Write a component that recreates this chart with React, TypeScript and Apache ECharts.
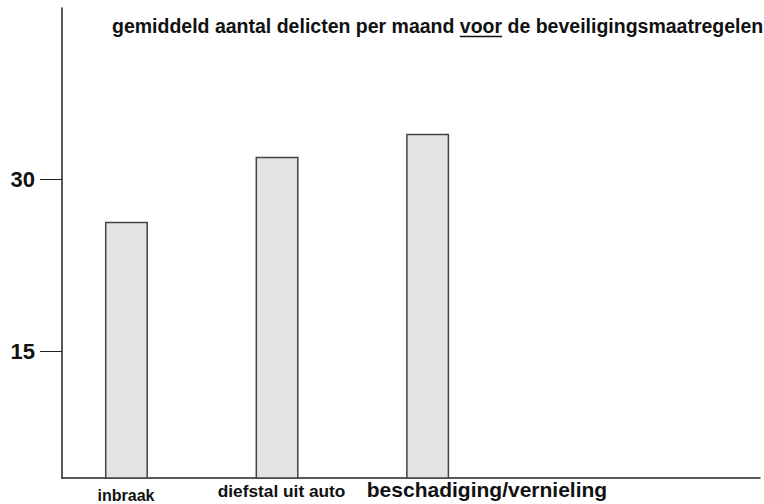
import React, { useEffect, useRef } from "react";
import * as echarts from "echarts";

const categories = ["inbraak", "diefstal uit auto", "beschadiging/vernieling"];
const values = [26.3, 32.0, 34.0];
const yTicks = [15, 30];
const titleBefore = "gemiddeld aantal delicten per maand ";
const titleUnderlined = "voor";
const titleAfter = " de beveiligingsmaatregelen";

const FONT = "'Liberation Sans', Arial, Helvetica, sans-serif";

export default function App() {
  const ref = useRef<HTMLDivElement>(null);
  useEffect(() => {
    if (!ref.current) return;
    const chart = echarts.init(ref.current, undefined, { renderer: "svg" });
    const titleSize = 19.5;
    const ctx = document.createElement("canvas").getContext("2d")!;
    ctx.font = `bold ${titleSize}px ${FONT}`;
    const titleX = 112;
    const titleY = 16;
    const preW = ctx.measureText(titleBefore).width;
    const uW = ctx.measureText(titleUnderlined).width;

    const xMin = 0.572;
    const xMax = 5.207;
    const labelCenters = [0.997, 2.03, 3.394];
    const labelKeys = ["a", "b", "c"];

    chart.setOption({
      animation: false,
      grid: { left: 62, right: 4, top: 8, bottom: 26, containLabel: false },
      xAxis: {
        type: "value",
        min: xMin,
        max: xMax,
        splitLine: { show: false },
        axisLine: { show: true, onZero: false, lineStyle: { color: "#222", width: 1.5 } },
        axisTick: { show: false },
        axisLabel: {
          show: true,
          customValues: labelCenters,
          margin: 1,
          verticalAlign: "top",
          fontFamily: FONT,
          fontWeight: "bold",
          color: "#111",
          formatter: (v: number) => {
            const i = labelCenters.findIndex((c) => Math.abs(c - v) < 1e-6);
            return i >= 0 ? `{${labelKeys[i]}|${categories[i]}}` : "";
          },
          rich: {
            a: { fontFamily: FONT, fontWeight: "bold", fontSize: 16, color: "#111", padding: [8, 0, 0, 0] },
            b: { fontFamily: FONT, fontWeight: "bold", fontSize: 17.3, color: "#111", padding: [3, 0, 0, 0] },
            c: { fontFamily: FONT, fontWeight: "bold", fontSize: 21, color: "#111", padding: [0, 0, 0, 0] },
          },
        },
      },
      yAxis: {
        type: "value",
        min: 3.9,
        max: 45,
        splitLine: { show: false },
        axisLine: { show: true, onZero: false, lineStyle: { color: "#222", width: 1.5 } },
        axisTick: {
          show: true,
          customValues: yTicks,
          length: 22,
          lineStyle: { color: "#222", width: 1 },
        },
        axisLabel: {
          show: true,
          customValues: yTicks,
          margin: 27,
          fontFamily: FONT,
          fontWeight: "bold",
          fontSize: 22,
          color: "#111",
        },
      },
      series: [
        {
          type: "bar",
          barWidth: 43,
          data: values.map((v, i) => [i + 1, v]),
          itemStyle: { color: "#e3e3e3", borderColor: "#444", borderWidth: 1.5 },
        },
      ],
      graphic: [
        {
          type: "text",
          left: titleX,
          top: titleY,
          style: {
            text: titleBefore + titleUnderlined + titleAfter,
            font: `bold ${titleSize}px ${FONT}`,
            fill: "#111",
          },
        },
        {
          type: "line",
          shape: {
            x1: titleX + preW,
            y1: titleY + titleSize + 1,
            x2: titleX + preW + uW,
            y2: titleY + titleSize + 1,
          },
          style: { stroke: "#111", lineWidth: 1.5 },
        },
      ],
    });
    return () => chart.dispose();
  }, []);
  return <div ref={ref} style={{ width: 764, height: 504, position: "absolute", left: 0, top: 0 }} />;
}
